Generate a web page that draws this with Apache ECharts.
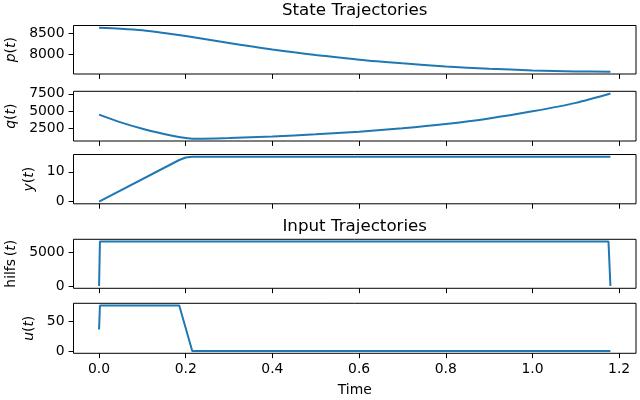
<!DOCTYPE html>
<html><head><meta charset="utf-8">
<script src="https://cdn.jsdelivr.net/npm/echarts@6/dist/echarts.min.js"></script>
<style>html,body{margin:0;padding:0;background:#fff}#c{width:640px;height:400px}</style>
</head><body><div id="c"></div>
<script>
// ---- data ----
const tP = [0,0.05,0.1,0.15,0.2,0.25,0.3,0.35,0.4,0.45,0.5,0.6,0.7,0.8,0.9,1.0,1.1,1.18];
const pVals = [8625,8600,8563,8502,8431,8350,8269,8190,8116,8050,7991,7880,7795,7722,7670,7630,7606,7597];
const tQ = [0,0.05,0.1,0.15,0.175,0.2,0.21,0.22,0.24,0.3,0.4,0.5,0.6,0.7,0.8,0.9,1.0,1.1,1.18];
const qVals = [4455,3330,2400,1620,1300,1030,960,930,940,1030,1265,1580,1960,2460,3090,3900,4940,6175,7540];
const tY = [0,0.185,0.2,0.215,1.18];
const yVals = [0,14.0,14.85,15.1,15.1];
const tH = [0,0.002,1.1755,1.18];
const hilfsVals = [0,6650,6650,0];
const tU = [0,0.002,0.185,0.215,1.18];
const uVals = [36,76.3,76.3,0,0];
const xTicks = [0,0.2,0.4,0.6,0.8,1.0,1.2];
const pTicks = [8000,8500];
const qTicks = [2500,5000,7500];
const yTicks = [0,10];
const hTicks = [0,5000];
const uTicks = [0,50];
const titles = ['State Trajectories','Input Trajectories'];
const xName = 'Time';

// ---- layout ----
const FONT = 'DejaVu Sans';
const FS = 13.9;
const L = 73.5, R = 4;
const panels = [
  {top:25.5, h:48.5, t:tP, v:pVals, ticks:pTicks, name:'{i|p}({i|t})', gap:49, smooth:0.3},
  {top:91.3, h:49.7, t:tQ, v:qVals, ticks:qTicks, name:'{i|q}({i|t})', gap:50, smooth:0.3},
  {top:154.5, h:49.3, t:tY, v:yVals, ticks:yTicks, name:'{i|y}({i|t})', gap:34, smooth:false},
  {top:239.3, h:49, t:tH, v:hilfsVals, ticks:hTicks, name:'hilfs\u2009({i|t})', gap:50, smooth:false},
  {top:303.3, h:50, t:tU, v:uVals, ticks:uTicks, name:'{i|u}({i|t})', gap:33, smooth:false}
];
const tMax = 1.18;
const xMin = -0.05*tMax, xMax = tMax*1.05;

const grid = [], xAxis = [], yAxis = [], series = [];
panels.forEach((p, i) => {
  const last = i === panels.length - 1;
  grid.push({left:L, right:R, top:p.top, height:p.h, show:true, borderColor:'#000', borderWidth:1,
    backgroundColor:'transparent', containLabel:false, outerBoundsMode:'none'});
  xAxis.push({
    type:'value', gridIndex:i, min:xMin, max:xMax,
    axisLine:{show:false, onZero:false},
    axisTick:{show:true, length:4.9, customValues:xTicks, lineStyle:{color:'#000', width:1}},
    axisLabel:{show:last, customValues:xTicks, margin:9, formatter:v=>v.toFixed(1), color:'#000', fontSize:FS, fontFamily:FONT},
    splitLine:{show:false},
    name: last ? xName : '', nameLocation:'middle', nameGap:30,
    nameTextStyle:{color:'#000', fontSize:FS, fontFamily:FONT}
  });
  yAxis.push({
    type:'value', gridIndex:i,
    min: e => e.min - 0.05*(e.max - e.min),
    max: e => e.max + 0.05*(e.max - e.min),
    axisLine:{show:false, onZero:false},
    axisTick:{show:true, length:4.9, customValues:p.ticks, lineStyle:{color:'#000', width:1}},
    axisLabel:{customValues:p.ticks, margin:9, formatter:v=>String(v), color:'#000', fontSize:FS, fontFamily:FONT},
    splitLine:{show:false},
    name:p.name, nameLocation:'middle', nameRotate:90, nameGap:p.gap,
    nameTextStyle:{color:'#000', fontSize:FS, fontFamily:FONT,
      rich:{i:{fontStyle:'italic', color:'#000', fontSize:FS, fontFamily:FONT}}}
  });
  series.push({
    type:'line', xAxisIndex:i, yAxisIndex:i, showSymbol:false, symbol:'none',
    smooth: p.smooth,
    lineStyle:{color:'#1f77b4', width:2}, itemStyle:{color:'#1f77b4'},
    data: p.t.map((t, k) => [t, p.v[k]])
  });
});

const cx = L + (640 - L - R)/2;
const option = {
  animation:false,
  backgroundColor:'#fff',
  title:[
    {text:titles[0], left:cx, top:2, padding:0, textAlign:'center', textStyle:{fontSize:16.7, fontWeight:'normal', color:'#000', fontFamily:FONT}},
    {text:titles[1], left:cx, top:218, padding:0, textAlign:'center', textStyle:{fontSize:16.7, fontWeight:'normal', color:'#000', fontFamily:FONT}}
  ],
  grid, xAxis, yAxis, series
};
const chart = echarts.init(document.getElementById('c'), null, {renderer:'canvas'});
chart.setOption(option);
</script>
</body></html>
